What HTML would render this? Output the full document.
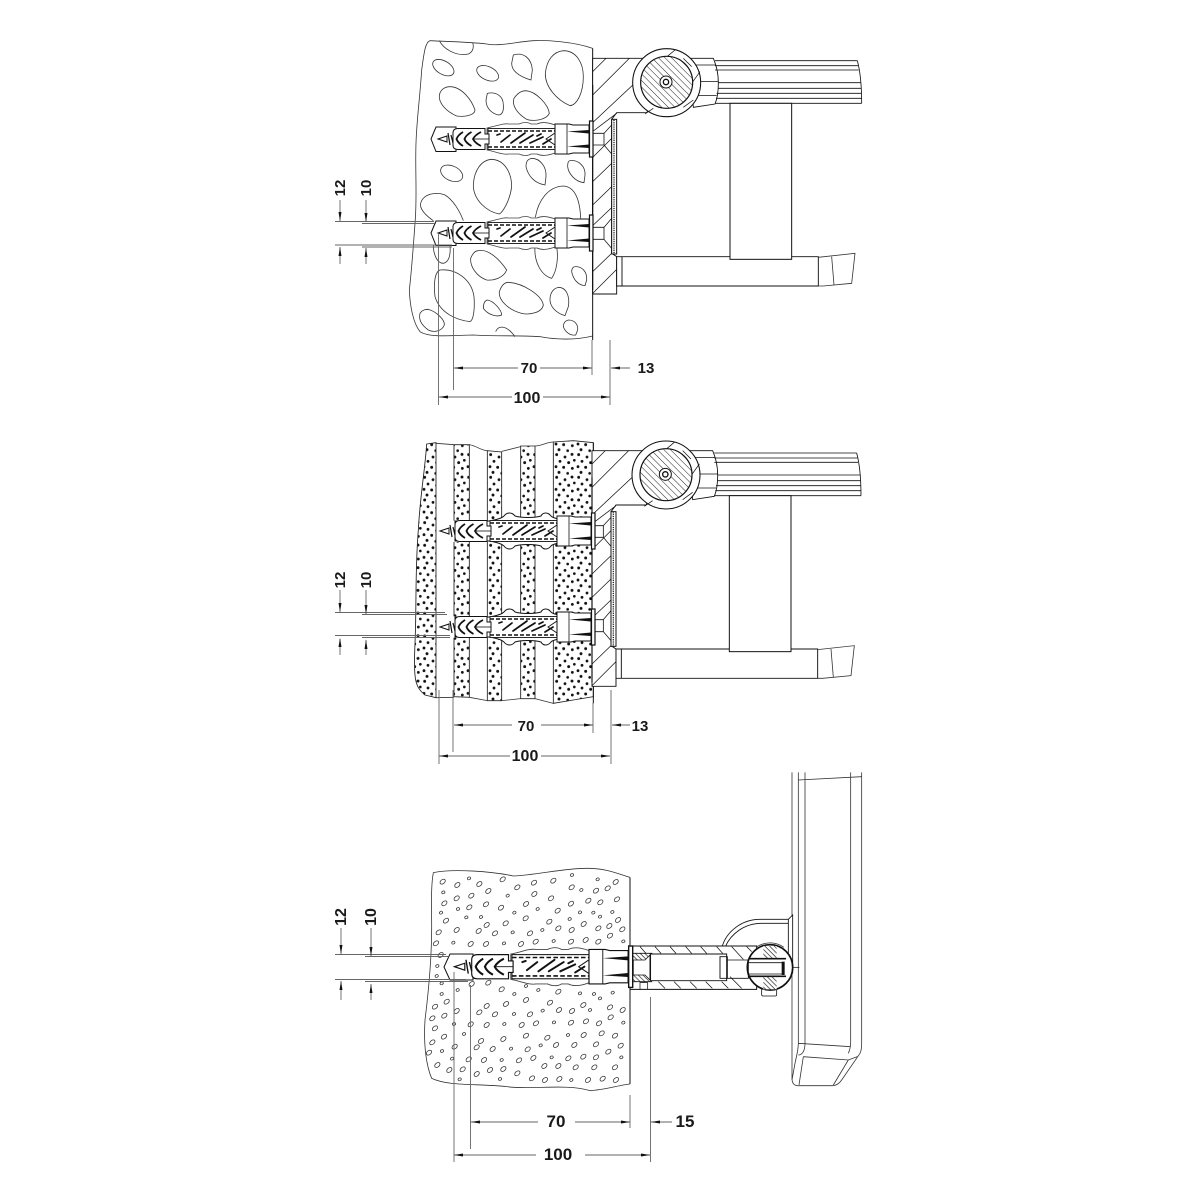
<!DOCTYPE html>
<html><head><meta charset="utf-8"><style>
html,body{margin:0;padding:0;background:#fff}
svg{display:block}
text{font-family:"Liberation Sans",sans-serif;font-weight:bold;fill:#1a1a1a;text-anchor:middle}
.s{fill:none;stroke:#333;stroke-width:2.4}
.k{fill:none;stroke:#111;stroke-width:3}
.k2{fill:none;stroke:#111;stroke-width:2.2}
.dim{fill:none;stroke:#666;stroke-width:.9}
</style></head><body>
<svg xmlns="http://www.w3.org/2000/svg" width="1200" height="1200" viewBox="0 0 1200 1200">
<rect width="1200" height="1200" fill="#fff"/>
<defs>
<pattern id="hatch" width="14" height="14" patternUnits="userSpaceOnUse" patternTransform="rotate(45)"><rect width="14" height="14" fill="#fff"/><line x1="0" y1="0" x2="14" y2="0" stroke="#222" stroke-width="3"/></pattern>
<pattern id="hatch2" width="10" height="10" patternUnits="userSpaceOnUse" patternTransform="rotate(45)"><rect width="10" height="10" fill="#fff"/><line x1="0" y1="0" x2="10" y2="0" stroke="#222" stroke-width="4"/></pattern>
<pattern id="dots" width="66" height="68" patternUnits="userSpaceOnUse"><rect width="66" height="68" fill="#fff"/>
<g fill="#111"><circle cx="8" cy="6" r="4.4"/><circle cx="33" cy="13" r="4.2"/><circle cx="54" cy="5" r="4.4"/><circle cx="18" cy="26" r="4.2"/><circle cx="44" cy="30" r="4.4"/><circle cx="61" cy="23" r="4"/><circle cx="6" cy="42" r="4.2"/><circle cx="29" cy="44" r="4.4"/><circle cx="55" cy="47" r="4.2"/><circle cx="15" cy="59" r="4.4"/><circle cx="41" cy="62" r="4"/></g></pattern>
<ellipse id="o" rx="9" ry="6" transform="rotate(-40)" fill="#fff" stroke="#333" stroke-width="2.300"/>
<ellipse id="p" rx="5" ry="4" transform="rotate(-30)" fill="#fff" stroke="#333" stroke-width="2.200"/>

<path id="sh1" d="M34,-11C44,-13 50,-16 56,-15L66,-15C70,-17 75,-17 78,-15L84,-15C88,-17 94,-17 102,-14L102,14C94,17 88,17 84,15L78,15C75,17 70,17 66,15L56,15C50,16 44,13 34,11Z" fill="#fff" stroke="#444" stroke-width=".8"/>
<path id="sh2" d="M0,-10H35C44,-12 47,-13 49,-15C52,-19 57,-19 60,-15C66,-13 80,-13 86,-15C88,-19 93,-19 96,-15C98,-13 100,-13 104,-12V12C100,13 98,13 96,15C93,19 88,19 86,15C80,13 66,13 60,15C57,19 52,19 49,15C47,13 44,12 35,10H0Z" fill="#fff" stroke="#111" stroke-width="1"/>

<g id="d">
<rect x="35" y="-10.500" width="67" height="21" fill="#fff" stroke="#111" stroke-width=".9"/>
<path d="M35,-8H102M35,8H102" stroke="#111" stroke-width="1.400" stroke-dasharray="4 2" fill="none"/>
<path d="M48,3L57,-4M58,4L72,-6M67,4L80,-4M77,4L90,-2M90,5L98,0M44,-4L47,-5M84,-3L88,-5" stroke="#111" stroke-width="1.700" fill="none" stroke-linecap="round"/>
<path d="M102,-6L93,0L102,6" stroke="#111" stroke-width=".9" fill="none"/>
<path d="M102,-15H116L120,-14H136V14H120L116,15H102Z" fill="#fff" stroke="#111" stroke-width="1"/>
<path d="M114,-15V15" fill="none" stroke="#111" stroke-width=".8"/>
<path d="M114,-7.500L136,-9V-5.500ZM114,7.500L136,9V5.500Z" fill="#111"/>
<rect x="136.500" y="-18" width="3.500" height="36" fill="#fff" stroke="#111" stroke-width="1.200"/>
<path d="M0,-6Q0,-10.500 5,-10.500H32V-5H36V5H32V10.500H5Q0,10.500 0,6Z" fill="#fff" stroke="#111" stroke-width="1"/>
<path d="M10,-7Q5,-4 3.500,0Q5,4 10,7M18.500,-7Q13,-4 11.500,0Q13,4 18.500,7M28,-7Q22,-4 20,0Q22,4 28,7" stroke="#111" stroke-width="1.800" fill="none"/>
<path d="M20,0H36" stroke="#111" stroke-width=".8"/>
<path d="M-15,0L-6,-3V3Z" fill="#fff" stroke="#111" stroke-width="1"/>
<path d="M-5,-6L-3,6M-2,-4L0,4" stroke="#111" stroke-width="1.200" fill="none"/>
</g>

<g id="b">
<path d="M578,85H733L770,62L800,140L740,248H650L635,268V670L650,680V792H578Z" fill="#fff" stroke="#111" stroke-width="2.800"/>
<path d="M578,125L618,85M578,195L688,85M578,278L725,140M578,382L635,325M578,455L635,400M578,525L635,470M578,725L635,670M578,790L650,718" class="k2"/>
<path d="M578,310H612V345H578M578,592H612V628H578" fill="#fff" stroke="#111" stroke-width="2.400"/>
<path d="M612,310L635,285M612,345L635,372M612,592L635,565M612,628L635,655M580,303L650,250M580,585L635,533" class="k2"/>
<rect x="635" y="268" width="15" height="404" fill="#fff" stroke="#111" stroke-width="3"/>
<path d="M642,270V670" stroke="#222" stroke-width="4" stroke-dasharray="3 2.500" fill="none"/>
<path d="M578,165V780" stroke="#111" stroke-width="3.500" fill="none"/>
<path d="M870,85H940C950,110 955,130 955,160C955,190 950,210 945,222L880,232Z" fill="#fff" stroke="#111" stroke-width="2.600"/>
<path d="M885,105H946M895,155H955M893,197H950" class="k2"/>
<circle cx="800" cy="158" r="102" fill="#fff" stroke="#111" stroke-width="3.200"/>
<path d="M825,60L795,85M875,110L850,85M900,125L875,160M880,210L850,232M760,235L735,252" class="k2"/>
<circle cx="800" cy="157" r="78" fill="url(#hatch)" stroke="#111" stroke-width="3.600"/>
<circle cx="798" cy="156" r="18" fill="#fff" stroke="#111" stroke-width="3"/>
<circle cx="798" cy="156" r="8" fill="#fff" stroke="#111" stroke-width="4"/>
<path d="M945,92H1372M945,107H1374M945,120H1376M955,158H1382M955,175H1383M950,190H1385M948,205H1385M945,220H1385M1372,92Q1385,140 1385,220" class="k" style="stroke-width:2.500"/>
<path d="M650,680H1255V768H650ZM666,680V768" fill="#fff" stroke="#111" stroke-width="2.800"/>
<rect x="990" y="220" width="185" height="468" fill="#fff" stroke="#111" stroke-width="3"/>
<path d="M1255,682L1365,670L1355,760L1270,768H1255" class="s"/>
<path d="M1295,680L1302,765" class="s"/>
</g>
</defs>

<!-- PANEL 1 -->
<g transform="translate(400,30) scale(.33333)">
<path d="M578,55C520,35 440,30 400,32C350,35 300,50 260,42C200,35 140,35 90,32C75,38 72,70 65,120C60,200 50,270 48,340C45,420 52,500 45,580C40,650 35,720 28,780C30,830 40,880 60,905C90,925 170,915 220,915C300,920 340,915 420,920C470,930 530,930 578,918" class="s"/>
<g class="s">
<path d="M118,32C130,55 165,80 205,72C220,65 222,50 218,38"/>
<ellipse cx="130" cy="113" rx="35" ry="20" transform="rotate(30 130 113)"/>
<ellipse cx="263" cy="130" rx="35" ry="20" transform="rotate(25 263 130)"/>
<path d="M340,75C370,65 395,85 397,120L393,150C360,140 335,125 335,100Z"/>
<path d="M490,62C530,62 550,100 550,140C550,190 530,225 510,227C470,210 435,170 436,130C440,90 460,65 490,62Z"/>
<path d="M150,170C185,170 215,210 225,240C225,255 195,262 170,258C140,245 115,220 118,195C122,178 135,170 150,170Z"/>
<path d="M262,190C285,185 310,195 310,225C312,245 305,255 295,255C275,250 258,235 258,210Z"/>
<path d="M378,182C410,185 445,225 448,250C440,270 400,275 380,268C350,250 335,225 342,205C352,190 365,182 378,182Z"/>
<ellipse cx="155" cy="430" rx="35" ry="22" transform="rotate(25 155 430)"/>
<path d="M275,388C315,390 335,430 335,470C330,510 310,545 298,552C260,545 220,510 220,465C222,420 245,390 275,388Z"/>
<path d="M395,385C420,385 440,410 438,440L435,465C405,460 385,440 378,410C378,392 385,387 395,385Z"/>
<path d="M510,392C535,388 557,410 555,435L552,458C525,455 505,430 503,410C503,397 505,393 510,392Z"/>
<path d="M100,572C75,555 58,535 62,520C70,490 110,485 135,495C160,510 180,545 190,572"/>
<path d="M406,562C415,510 445,470 490,468C525,470 540,510 542,565"/>
<path d="M100,645C100,670 110,700 130,700C150,695 152,670 150,645"/>
<path d="M235,662C265,655 300,690 320,720C310,745 280,752 260,750C230,740 210,710 212,685C218,670 225,662 235,662Z"/>
<path d="M405,650C402,690 420,735 455,745C472,720 475,680 470,650"/>
<path d="M525,710C545,708 562,725 560,750L555,767C535,765 520,750 515,725C515,715 520,710 525,710Z"/>
<path d="M120,720C170,715 215,750 222,800C225,840 220,870 210,875C170,870 120,850 105,800C100,760 105,725 120,720Z"/>
<path d="M325,757C370,760 425,795 430,825C425,850 385,855 365,850C325,840 295,810 298,785C305,765 315,757 325,757Z"/>
<path d="M475,772C500,772 510,800 505,830L495,857C470,850 448,830 450,805C452,785 462,775 475,772Z"/>
<path d="M262,810C280,812 305,840 305,855C290,862 265,855 250,835C250,820 255,812 262,810Z"/>
<path d="M85,838C110,845 135,870 133,885C125,905 100,908 85,900C65,885 55,870 60,850C68,838 78,838 85,838Z"/>
<path d="M505,870C525,870 535,885 533,900L527,915C510,918 495,905 490,890C490,878 497,872 505,870Z"/>
<path d="M287,905C295,885 320,885 345,920"/>
</g>
<path d="M578,55V930" class="k"/>
<use href="#b"/>
</g>
<g fill="#fff" stroke="#111" stroke-width="1">
<path d="M431,139L436,127H456V151.500H436Z"/>
<path d="M431,233L436,221H456V245.500H436Z"/>
</g>
<use href="#sh1" x="453" y="139"/><use href="#d" x="453" y="139"/>
<use href="#sh1" x="453" y="233"/><use href="#d" x="453" y="233"/>

<!-- PANEL 2 -->
<g transform="translate(400,430) scale(.33333)">
<g stroke="#222" stroke-width="2.600">
<path d="M80,42L108,38V803L75,795C45,770 40,750 45,640C50,520 45,420 55,300C60,200 75,120 80,42Z" fill="url(#dots)"/>
<path d="M162,44H208V802L162,800Z" fill="url(#dots)"/>
<path d="M262,62L305,66V812H262Z" fill="url(#dots)"/>
<path d="M362,48H405V806H362Z" fill="url(#dots)"/>
<path d="M460,36L520,32L580,38V800L520,810L460,820Z" fill="url(#dots)"/>
</g>
<path d="M108,40L162,44M208,44C230,48 245,62 262,62M305,64L362,50M405,48C425,48 440,36 460,36M108,803L162,802M208,802L262,812M305,812L362,806M405,806L460,820" class="s"/>
<rect x="150" y="272" width="425" height="64" fill="#fff"/>
<rect x="150" y="559" width="425" height="64" fill="#fff"/>
<path d="M580,38V820" class="k"/>
<use href="#b" x="-2" y="-23"/>
</g>
<use href="#sh2" x="455" y="531"/><use href="#d" x="455" y="531"/>
<use href="#sh2" x="455" y="627"/><use href="#d" x="455" y="627"/>

<!-- PANEL 3 -->
<g transform="translate(420,860) scale(.33333)">
<path d="M630,52C590,40 560,25 500,25C430,25 350,45 280,48C220,35 100,25 40,38C32,80 35,150 35,200C35,300 25,400 15,480C10,560 20,620 35,655C90,680 170,670 260,680C330,690 440,670 510,692C550,690 600,675 630,672" class="s"/>
<g>
<use href="#o" x="68" y="65"/><use href="#o" x="112" y="75"/><use href="#p" x="147" y="55"/><use href="#o" x="178" y="72"/><use href="#o" x="248" y="58"/><use href="#o" x="292" y="82"/><use href="#o" x="342" y="68"/><use href="#o" x="400" y="62"/><use href="#p" x="456" y="45"/><use href="#o" x="455" y="82"/><use href="#p" x="484" y="90"/><use href="#p" x="533" y="58"/><use href="#o" x="528" y="92"/><use href="#o" x="563" y="85"/><use href="#o" x="587" y="66"/>
<use href="#p" x="70" y="97"/><use href="#o" x="110" y="115"/><use href="#o" x="154" y="107"/><use href="#o" x="205" y="93"/><use href="#p" x="263" y="107"/><use href="#o" x="343" y="102"/><use href="#o" x="393" y="115"/><use href="#o" x="505" y="122"/><use href="#o" x="541" y="127"/><use href="#o" x="591" y="118"/>
<use href="#o" x="73" y="130"/><use href="#p" x="114" y="147"/><use href="#o" x="148" y="142"/><use href="#o" x="198" y="133"/><use href="#o" x="243" y="143"/><use href="#o" x="318" y="132"/><use href="#p" x="353" y="147"/><use href="#o" x="413" y="152"/><use href="#o" x="453" y="131"/>
<use href="#p" x="63" y="158"/><use href="#p" x="139" y="172"/><use href="#p" x="183" y="171"/><use href="#p" x="283" y="158"/><use href="#o" x="317" y="175"/><use href="#p" x="480" y="157"/><use href="#p" x="520" y="158"/><use href="#p" x="540" y="170"/><use href="#p" x="577" y="156"/><use href="#p" x="449" y="177"/>
<use href="#o" x="78" y="182"/><use href="#o" x="388" y="185"/><use href="#o" x="200" y="195"/><use href="#o" x="257" y="190"/><use href="#o" x="491" y="192"/><use href="#o" x="594" y="180"/>
<use href="#o" x="56" y="217"/><use href="#o" x="110" y="210"/><use href="#o" x="176" y="213"/><use href="#o" x="225" y="220"/><use href="#p" x="278" y="217"/><use href="#o" x="330" y="220"/><use href="#p" x="367" y="210"/><use href="#o" x="415" y="205"/><use href="#o" x="455" y="210"/><use href="#o" x="535" y="205"/><use href="#o" x="568" y="198"/><use href="#o" x="607" y="208"/><use href="#o" x="570" y="227"/>
<use href="#o" x="48" y="250"/><use href="#p" x="100" y="248"/><use href="#o" x="152" y="252"/><use href="#o" x="198" y="252"/><use href="#p" x="252" y="250"/><use href="#o" x="303" y="252"/><use href="#o" x="347" y="245"/><use href="#p" x="401" y="243"/><use href="#o" x="453" y="245"/><use href="#o" x="497" y="240"/><use href="#o" x="535" y="245"/><use href="#p" x="610" y="244"/>
<use href="#o" x="62" y="285"/><use href="#p" x="52" y="318"/><use href="#p" x="50" y="348"/><use href="#p" x="65" y="370"/><use href="#p" x="113" y="390"/><use href="#o" x="155" y="372"/><use href="#o" x="205" y="368"/><use href="#o" x="245" y="388"/><use href="#p" x="318" y="378"/><use href="#p" x="355" y="390"/><use href="#o" x="415" y="395"/><use href="#p" x="480" y="400"/><use href="#p" x="522" y="402"/><use href="#p" x="578" y="398"/><use href="#p" x="65" y="402"/>
<use href="#o" x="45" y="440"/><use href="#o" x="80" y="425"/><use href="#o" x="200" y="438"/><use href="#o" x="178" y="457"/><use href="#o" x="258" y="432"/><use href="#o" x="318" y="420"/><use href="#o" x="390" y="428"/><use href="#p" x="283" y="402"/><use href="#o" x="490" y="435"/><use href="#o" x="570" y="442"/><use href="#o" x="608" y="450"/><use href="#o" x="417" y="450"/><use href="#o" x="456" y="453"/><use href="#p" x="540" y="415"/>
<use href="#o" x="37" y="475"/><use href="#o" x="73" y="467"/><use href="#o" x="110" y="453"/><use href="#o" x="225" y="463"/><use href="#p" x="282" y="462"/><use href="#o" x="330" y="463"/><use href="#p" x="368" y="452"/><use href="#p" x="510" y="450"/><use href="#o" x="572" y="472"/>
<use href="#o" x="45" y="505"/><use href="#p" x="102" y="492"/><use href="#o" x="152" y="493"/><use href="#o" x="200" y="495"/><use href="#p" x="253" y="492"/><use href="#o" x="305" y="495"/><use href="#o" x="348" y="490"/><use href="#p" x="402" y="487"/><use href="#o" x="453" y="488"/><use href="#o" x="498" y="484"/><use href="#o" x="537" y="490"/><use href="#p" x="610" y="488"/>
<use href="#o" x="37" y="547"/><use href="#o" x="72" y="530"/><use href="#p" x="132" y="522"/><use href="#o" x="183" y="543"/><use href="#o" x="318" y="527"/><use href="#o" x="250" y="537"/><use href="#o" x="382" y="533"/><use href="#p" x="444" y="525"/><use href="#o" x="491" y="525"/><use href="#o" x="545" y="520"/><use href="#o" x="585" y="527"/>
<use href="#o" x="27" y="578"/><use href="#p" x="66" y="573"/><use href="#o" x="104" y="560"/><use href="#o" x="170" y="562"/><use href="#o" x="218" y="567"/><use href="#p" x="273" y="566"/><use href="#o" x="323" y="568"/><use href="#p" x="362" y="556"/><use href="#o" x="408" y="555"/><use href="#o" x="463" y="555"/><use href="#o" x="528" y="553"/><use href="#o" x="602" y="557"/><use href="#o" x="565" y="575"/>
<use href="#o" x="52" y="615"/><use href="#p" x="96" y="596"/><use href="#o" x="146" y="598"/><use href="#o" x="192" y="600"/><use href="#p" x="245" y="600"/><use href="#o" x="297" y="601"/><use href="#o" x="340" y="594"/><use href="#p" x="395" y="592"/><use href="#o" x="445" y="595"/><use href="#o" x="490" y="590"/><use href="#o" x="528" y="592"/><use href="#p" x="604" y="592"/>
<use href="#o" x="88" y="630"/><use href="#o" x="128" y="628"/><use href="#o" x="210" y="630"/><use href="#o" x="250" y="627"/><use href="#o" x="170" y="642"/><use href="#o" x="292" y="640"/><use href="#o" x="373" y="618"/><use href="#o" x="415" y="618"/><use href="#o" x="467" y="622"/><use href="#o" x="523" y="622"/><use href="#o" x="585" y="622"/>
<use href="#p" x="119" y="658"/><use href="#p" x="240" y="657"/><use href="#o" x="336" y="655"/><use href="#o" x="375" y="660"/><use href="#o" x="418" y="657"/><use href="#p" x="454" y="660"/><use href="#o" x="504" y="660"/><use href="#o" x="548" y="656"/><use href="#o" x="588" y="660"/>
</g>
<path d="M630,52V672" class="k"/>
<!-- wall panel -->
<path d="M1116,-263V655Q1116,677 1135,677H1240Q1255,675 1265,660L1320,580Q1325,570 1325,550V-263" class="s"/>
<path d="M1135,-263V550C1135,570 1130,585 1125,610L1116,660M1135,550L1292,560M1155,-263V550C1155,575 1145,585 1135,585M1292,-263V545Q1292,565 1285,580M1135,-240L1325,-250M1150,590L1285,600L1312,590M1150,590L1137,675M1285,600L1240,675" class="s"/>
<!-- arc bracket -->
<path d="M907,258C920,215 965,178 1020,178H1105L1118,165V340M1105,178V325M917,258C932,225 970,190 1025,190H1105" fill="#fff" stroke="#111" stroke-width="2.600"/>
<!-- tube -->
<path d="M630,258H1010V388H630Z" fill="#fff" stroke="#111" stroke-width="3"/>
<path d="M690,282H920V362H690ZM900,290H922V355H900Z" fill="#fff" stroke="#111" stroke-width="2.800"/>
<path d="M660,260L678,280M705,260L723,280M750,260L768,280M797,260L815,280M842,260L860,280M890,260L908,280M715,365L735,385M762,365L782,385M810,365L830,385M857,365L877,385M905,365L925,385M935,260L970,298M980,260L995,275M930,350L965,385" class="k2"/>
<path d="M632,280H695L675,300H632ZM632,365H695L675,345H632Z" fill="url(#hatch2)" stroke="#111" stroke-width="2.400"/>
<path d="M692,282V362M640,300V345" class="k2"/>
<path d="M660,388V368H683V388" class="k2"/>
<!-- hinge -->
<rect x="1025" y="385" width="45" height="23" rx="4" fill="#fff" stroke="#111" stroke-width="2.400"/>
<circle cx="1050" cy="322" r="68" fill="#fff" stroke="#111" stroke-width="5"/>
<path d="M1008,262A73,73 0 0 1 1092,262" class="s"/>
<rect x="1030" y="258" width="40" height="38" fill="url(#hatch2)"/>
<rect x="1030" y="350" width="40" height="38" fill="url(#hatch2)"/>
<path d="M987,296H1098M987,349H1098" stroke="#111" stroke-width="5" fill="none"/>
<path d="M922,300H985V355H922M985,308H1090M985,342H1090" class="k" style="stroke-width:2.600"/>
<rect x="1085" y="305" width="9" height="40" fill="#111"/>
<path d="M1116,322H1138" class="k2"/>
</g>
<g fill="#fff" stroke="#111" stroke-width="1">
<path d="M444,967L450,954H473V980H450Z"/>
</g>
<g transform="translate(471.700,966.700) scale(1.150)"><use href="#sh1"/><use href="#d"/></g>

<!-- DIMENSIONS PANEL 1 -->
<g class="dim">
<path d="M335,221.500H434M362,223.500H436M335,245H452M362,247H452M340,200V221M340,247V264M366,200V222M366,248V264"/>
<path d="M438.500,232V405M453.500,248V390M592,340V375M610,340V405"/>
<path d="M454,368H518M540,368H592M611,368H630M439,397H512M543,397H610"/>
</g>
<!-- DIMENSIONS PANEL 2 -->
<g class="dim">
<path d="M335,612.500H445M362,614.500H447M335,635.500H450M362,637.500H450M340,590V612M340,639V655M366,590V614M366,640V655"/>
<path d="M439,690V764M453,690V752M593,703V733M611,690V764"/>
<path d="M454,725H512M541,725H593M612,725H630M439,756H510M541,756H610"/>
</g>
<!-- DIMENSIONS PANEL 3 -->
<g class="dim">
<path d="M335,954.500H446M365,956.500H448M335,979.500H466M365,981.500H468M341,928V954M341,981V1000M371,928V956M371,984V1000"/>
<path d="M454,972V1162M470.500,985V1149M630,1095V1128M650.500,997V1162"/>
<path d="M471,1122H538M575,1122H630M651,1122H672M454,1155H536M585,1155H650"/>
</g>
<g fill="#111">
<path d="M340,221L338.500,212H341.500ZM340,247L338.500,256H341.500ZM366,222L364.500,213H367.500ZM366,248L364.500,257H367.500Z"/>
<path d="M454,368L463,366.500V369.500ZM592,368L583,366.500V369.500ZM611,368L620,366.500V369.500ZM439,397L448,395.500V398.500ZM610,397L601,395.500V398.500Z"/>
<path d="M340,612L338.500,603H341.500ZM340,638L338.500,647H341.500ZM366,614L364.500,605H367.500ZM366,640L364.500,649H367.500Z"/>
<path d="M454,725L463,723.500V726.500ZM593,725L584,723.500V726.500ZM612,725L621,723.500V726.500ZM439,756L448,754.500V757.500ZM610,756L601,754.500V757.500Z"/>
<path d="M341,954L339.500,945H342.500ZM341,981L339.500,990H342.500ZM371,956L369.500,947H372.500ZM371,984L369.500,993H372.500Z"/>
<path d="M471,1122L480,1120.500V1123.500ZM630,1122L621,1120.500V1123.500ZM651,1122L660,1120.500V1123.500ZM454,1155L463,1153.500V1156.500ZM650,1155L641,1153.500V1156.500Z"/>
</g>
<text x="529" y="373" font-size="15">70</text>
<text x="646" y="373" font-size="15">13</text>
<text x="527" y="403" font-size="16">100</text>
<text x="526" y="731" font-size="15">70</text>
<text x="640" y="731" font-size="15">13</text>
<text x="525" y="761" font-size="16">100</text>
<text x="556" y="1127" font-size="17">70</text>
<text x="685" y="1127" font-size="17">15</text>
<text x="558" y="1160" font-size="17">100</text>
<text transform="translate(345,188) rotate(-90)" font-size="15">12</text>
<text transform="translate(371,188) rotate(-90)" font-size="15">10</text>
<text transform="translate(345,580) rotate(-90)" font-size="15">12</text>
<text transform="translate(371,580) rotate(-90)" font-size="15">10</text>
<text transform="translate(346,917) rotate(-90)" font-size="16">12</text>
<text transform="translate(376,917) rotate(-90)" font-size="16">10</text>
</svg>
</body></html>
